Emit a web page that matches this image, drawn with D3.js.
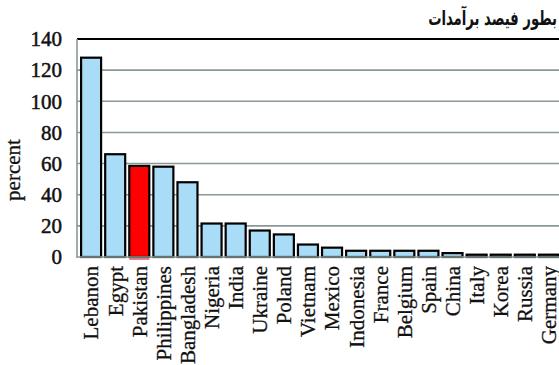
<!DOCTYPE html>
<html>
<head>
<meta charset="utf-8">
<script src="https://cdn.jsdelivr.net/npm/d3@7"></script>
<style>
  html, body { margin: 0; padding: 0; background: #fff; overflow: hidden; }
  svg { display: block; }
</style>
</head>
<body>
<svg id="chart" width="559" height="365"></svg>
<script>
// Exports as a share of GDP, by country
const countries = ["Lebanon", "Egypt", "Pakistan", "Philippines", "Bangladesh", "Nigeria", "India",
  "Ukraine", "Poland", "Vietnam", "Mexico", "Indonesia", "France", "Belgium", "Spain", "China",
  "Italy", "Korea", "Russia", "Germany"];
const values = [128, 66, 58.5, 58, 48, 21.5, 21.5, 17, 14.5, 8, 6, 4, 4, 4, 4, 2.5, 1.5, 1.5, 1.5, 1.5];
const highlighted = ["Pakistan"];
const yTicks = [0, 20, 40, 60, 80, 100, 120, 140];
const titleText = "بطور فیصد برآمدات";
const yLabel = "percent";

const svg = d3.select("#chart");
const plotLeft = 77, plotRight = 563, plotTop = 39, plotBottom = 257;
const serif = "'Liberation Serif', 'Times New Roman', serif";

const x = d3.scaleBand().domain(countries).range([plotLeft, plotRight]).paddingInner(0.17).paddingOuter(0.17);
const y = d3.scaleLinear().domain([0, 140]).range([plotBottom, plotTop]);

// horizontal gridlines
svg.append("g").selectAll("line").data(yTicks.filter(t => t > 0 && t < 140)).join("line")
  .attr("x1", plotLeft).attr("x2", 559)
  .attr("y1", d => y(d)).attr("y2", d => y(d))
  .attr("stroke", "#8a9898").attr("stroke-width", 1.6);

// top border
svg.append("line").attr("x1", plotLeft).attr("x2", 559).attr("y1", y(140)).attr("y2", y(140))
  .attr("stroke", "#000").attr("stroke-width", 2);

// bars
svg.append("g").selectAll("rect").data(countries).join("rect")
  .attr("x", d => x(d))
  .attr("width", x.bandwidth())
  .attr("y", (d, i) => y(values[i]))
  .attr("height", (d, i) => y(0) - y(values[i]))
  .attr("fill", d => highlighted.includes(d) ? "#ff0000" : "#a9dcf7")
  .attr("stroke", "#000").attr("stroke-width", 2.2);

// red underline beneath the highlighted bar
svg.append("g").selectAll("line").data(highlighted).join("line")
  .attr("x1", d => x(d)).attr("x2", d => x(d) + x.bandwidth())
  .attr("y1", y(0) + 2).attr("y2", y(0) + 2)
  .attr("stroke", "#e03030").attr("stroke-width", 1.2);

// baseline and left axis line
svg.append("line").attr("x1", plotLeft).attr("x2", 559).attr("y1", y(0)).attr("y2", y(0))
  .attr("stroke", "#8a9898").attr("stroke-width", 1.6);
svg.append("line").attr("x1", plotLeft).attr("x2", plotLeft).attr("y1", y(140)).attr("y2", y(0) + 1)
  .attr("stroke", "#8a9898").attr("stroke-width", 1.6);

// y tick labels
const yAxis = d3.axisLeft(y).tickValues(yTicks).tickSize(0).tickPadding(15);
const gy = svg.append("g").attr("transform", `translate(${plotLeft},0)`).call(yAxis);
gy.select(".domain").remove();
gy.selectAll("text")
  .attr("font-family", serif)
  .attr("font-size", 21).attr("fill", "#111")
  .attr("stroke", "#111").attr("stroke-width", 0.5);

// y axis title
svg.append("text")
  .attr("transform", `translate(20,${(plotTop + plotBottom) / 2 + 22}) rotate(-90)`)
  .attr("text-anchor", "middle")
  .attr("font-family", serif)
  .attr("font-size", 21).attr("fill", "#111")
  .attr("stroke", "#111").attr("stroke-width", 0.3)
  .text(yLabel);

// x category labels
const xAxis = d3.axisBottom(x).tickSize(0).tickPadding(0);
const gx = svg.append("g").attr("transform", `translate(0,${plotBottom})`).call(xAxis);
gx.select(".domain").remove();
gx.selectAll("text")
  .attr("font-family", serif)
  .attr("font-size", 21).attr("fill", "#111")
  .attr("stroke", "#111").attr("stroke-width", 0.3)
  .attr("text-anchor", "end")
  .attr("dy", "0.35em")
  .attr("transform", "translate(0,9) rotate(-90)")
  .attr("x", 0).attr("y", 0);

// title, right-aligned and condensed
svg.append("g")
  .attr("transform", "translate(557,25) scale(0.66,1)")
  .append("text")
  .attr("x", 0).attr("y", 0)
  .attr("text-anchor", "end")
  .attr("font-family", "'DejaVu Sans', sans-serif")
  .attr("font-weight", "bold")
  .attr("font-size", 20).attr("fill", "#111")
  .text(titleText);
</script>
</body>
</html>
